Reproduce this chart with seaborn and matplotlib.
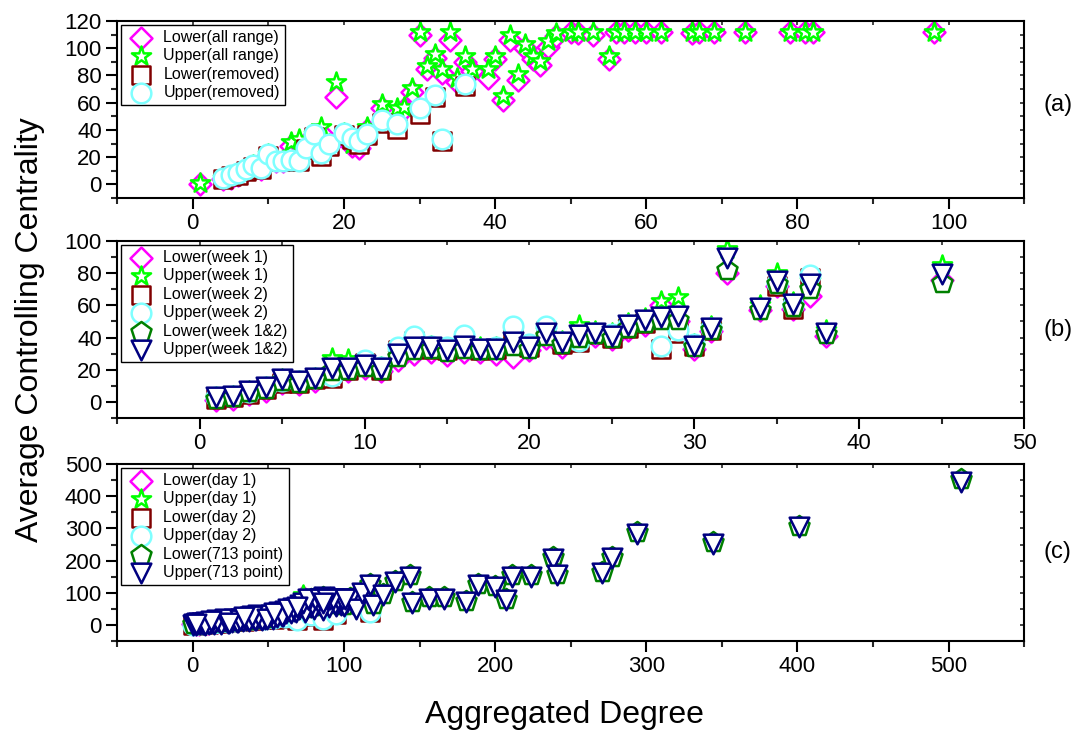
import matplotlib
matplotlib.use("Agg")
import matplotlib.pyplot as plt
from matplotlib.ticker import MultipleLocator
import seaborn as sns

# ---- panel (a): all range vs removed ----
xa_all = [1, 4, 5, 6, 7, 8, 9, 10, 11, 12, 13, 14, 15, 16, 17, 18, 19, 20, 21, 22,
          23, 25, 27, 28, 29, 30, 31, 32, 33, 34, 35, 36, 37, 39, 40, 41, 42, 43, 44, 45,
          46, 47, 48, 50, 51, 53, 55, 56, 57, 58.5, 60, 62, 66, 67, 69, 73, 79, 81, 82, 98]
ya_all_lower = [0.5, 4, 5, 7, 10, 13, 11, 21, 17, 17, 28, 30, 27, 36, 38, 28, 64, 36, 28, 27,
                40, 56, 52, 55, 68, 110, 85, 93, 82, 106, 75, 90, 83, 78, 92, 62, 106, 77, 100, 92,
                88, 101, 109, 112, 111, 110, 92, 112, 112, 112, 112, 112, 111, 112, 112, 112, 112, 112, 112, 112]
ya_all_upper = [1, 5, 6, 8, 11, 14, 12, 22, 18, 18, 31, 33, 28, 37, 42, 30, 75, 38, 30, 30,
                42, 59, 56, 57, 71, 112, 87, 96, 85, 112, 78, 94, 85, 84.5, 94, 65, 110, 81, 103, 94,
                90.5, 105, 111, 112, 112, 112, 94, 112, 112, 112, 112, 112, 112, 112, 112, 112, 112, 112, 112, 112]
xa_rm = [4, 5, 6, 7, 8, 9, 10, 11, 12, 13, 14, 15, 16, 17, 18, 20, 21, 22, 23, 25,
         27, 30, 32, 33, 36]
ya_rm_lower = [4, 6, 7, 10, 13, 11, 21, 17, 17, 17, 17, 26, 35, 21, 28, 36, 33, 30, 36, 45,
               41, 52, 64, 32, 72]
ya_rm_upper = [5, 6.6, 8, 11, 14, 11.7, 22, 17.5, 17.5, 18.2, 17.5, 27, 37, 23, 30, 38, 34, 32, 37, 47,
               44.5, 56, 66, 33.6, 73.5]

# ---- panel (b): week 1, week 2, week 1&2 ----
xb_w1 = [1, 2, 3, 4, 5, 6, 7, 8, 9, 10, 11, 12, 13, 14, 15, 16, 17, 18, 19, 20,
         21, 22, 23, 24, 25, 26, 27, 28, 29, 30, 31, 32, 34, 35, 36, 37, 38, 45]
yb_w1_lower = [1, 2, 5, 7, 12, 11, 13, 18, 19, 21, 19, 26, 30, 31, 29, 31, 31, 30, 28, 32,
               40, 34, 39, 41, 39, 45, 48, 60, 50, 33, 44, 80, 57, 72, 58, 66, 41, 76]
yb_w1_upper = [3, 4, 7, 9, 14, 13, 15, 27.6, 27, 24, 22, 30, 34, 35, 33, 36, 34, 34, 38, 35,
               44, 38, 47.7, 44, 43, 49, 52, 62.7, 65, 36, 47, 95, 60, 80, 62, 75, 45, 85]
xb_w2 = [1, 2, 3, 4, 5, 6, 7, 8, 9, 10, 11, 12, 13, 14, 15, 16, 17, 18, 19, 20,
         21, 22, 23, 24, 25, 26, 27, 28, 29, 30, 31, 35, 36, 37]
yb_w2_lower = [2, 3, 5, 8, 12, 12, 14, 15, 20, 24, 20, 32, 38, 33, 32, 38, 32, 33, 43, 34,
               44, 36, 37, 42, 40, 46, 49, 33, 43, 35, 45, 72, 58, 77]
yb_w2_upper = [3, 4, 6, 9, 13, 13, 15, 16, 21, 26, 22, 34, 41, 35, 34, 41.5, 33, 34, 47, 36,
               47, 37, 38, 43, 42, 48, 50, 35, 45, 36, 46, 74, 60, 79]
xb_w12 = xb_w1
yb_w12_lower = [2, 3, 6, 8, 13, 12, 14, 19, 20, 22, 20, 28, 32, 33, 31, 33, 32, 32, 35, 33,
                41, 36, 40, 42, 40, 46, 49, 51, 51, 34, 45, 82, 57, 73, 59, 70, 42, 74]
yb_w12_upper = [3, 3.7, 6.8, 9, 14, 13, 15, 21, 21, 23, 21, 30, 34, 34, 32, 35, 33, 33, 37, 34,
                43, 37, 41.5, 43, 41, 48, 51, 53, 53.4, 35, 46, 89.7, 58.6, 75, 60.7, 73, 43, 79.3]

# ---- panel (c): day 1, day 2, 713 point ----
xc_d1 = [0, 2, 4, 6, 8, 10, 13, 16, 19, 22, 25, 28, 31, 34, 37, 40, 43, 46, 49, 52,
         55, 58, 61, 64, 67, 70, 73, 76]
yc_d1_lower = [2, 3, 3, 5, 6, 6, 8, 10, 10, 13, 14, 14, 17, 18, 19, 21, 23, 24, 26, 28,
               30, 31, 35, 38, 41, 46, 88, 60]
yc_d1_upper = [3, 4, 5, 6, 7, 8, 9, 11, 12, 14, 15, 16, 18, 19, 21, 22, 24, 26, 27, 29,
               32, 33, 37, 40, 43, 48, 92, 62]
xc_d2 = [0, 3, 6, 10, 14, 18, 23, 28, 34, 40, 47, 54, 61, 69, 78, 86, 95, 117]
yc_d2_lower = [0, 1, 3, 4, 6, 7, 9, 11, 13, 16, 18, 20, 23, 14, 28, 16, 33, 39]
yc_d2_upper = [1, 2, 4, 5, 7, 8, 10, 12, 14, 17, 19, 22, 25, 16, 30, 18, 35, 41]

# lower bound, 713 points (listed in file order, not sorted)
xc_lo = [2, 40, 10, 66, 25, 84, 0, 52, 18, 95, 34, 7, 60, 29, 76, 14, 47, 88, 22, 70,
         5, 57, 36, 81, 12, 64, 44, 100, 30, 73, 86, 91, 78, 104,
         112, 117, 119, 126, 134, 144, 145, 156, 166, 181, 189, 200, 207, 211, 224, 238,
         241, 271, 277, 294, 344, 401, 508]
yc_lo = [3, 20, 6, 45, 13, 60, 2, 30, 10, 64, 18, 5, 40, 12, 52, 9, 22, 70, 12, 55,
         4, 36, 16, 84, 8, 50, 26, 62, 18, 70, 88, 83, 80, 85,
         102, 128, 66, 97, 138, 155, 71, 86, 86, 76, 128, 122, 81, 154, 154, 210,
         159, 164, 212, 288, 257, 308, 452]
# upper bound, 713 points (listed in file order, not sorted)
xc_up = [3, 45, 12, 70, 0, 25, 88, 8, 55, 18, 33, 95, 5, 62, 40, 15, 78, 28, 2, 50,
         102, 10, 36, 67, 22, 85, 7, 47, 58, 30, 1, 75, 20, 42, 92, 14, 64, 38, 6, 53,
         98, 26, 72, 17, 44, 82, 4, 60, 32, 11, 90, 48, 23, 68, 9, 35, 80, 57, 19, 100,
         41, 13, 65, 27, 86, 52, 3, 74, 29, 46, 94, 16, 61, 37, 79, 21, 56, 106, 31, 8,
         71, 43, 24, 83, 59, 12, 97, 39, 66, 49, 2, 77, 34, 87, 54, 104, 73, 91, 63, 81,
         96, 76, 108, 84, 99, 69, 93, 101, 89, 86,
         112, 117, 119, 126, 134, 144, 145, 156, 166, 181, 189, 200, 207, 211, 224, 238,
         241, 271, 277, 294, 344, 401, 508]
yc_up = [2, 20, 6, 50, 1, 14, 66, 5, 30, 9, 12, 60, 3, 38, 22, 8, 55, 16, 0, 25,
         72, 7, 18, 44, 11, 58, 2, 28, 34, 10, 4, 48, 13, 15, 70, 3, 42, 24, 6, 20,
         62, 8, 58, 12, 26, 62, 5, 28, 20, 2, 55, 18, 5, 40, 8, 14, 50, 40, 4, 58,
         14, 10, 36, 19, 48, 32, 7, 40, 9, 16, 66, 14, 44, 12, 64, 17, 24, 66, 16, 1,
         62, 30, 6, 70, 28, 13, 74, 28, 52, 17, 3, 77, 24, 86, 38, 82, 67, 80, 50, 82,
         82, 80, 51, 80, 80, 56, 82, 80, 80, 67,
         98, 124, 62, 93, 134, 150, 67, 82, 82, 72, 124, 118, 77, 150, 150, 206,
         155, 160, 208, 284, 253, 304, 444]

MAGENTA = "#FF00FF"
GREEN = "#00FF00"
DARKRED = "#800000"
CYAN = "#7FFFFF"
DKGREEN = "#008000"
NAVY = "#000080"

sns.set_theme(style="ticks")
plt.rcParams["font.family"] = ["Liberation Sans", "DejaVu Sans"]
plt.rcParams["text.color"] = "black"

fig = plt.figure(figsize=(10.85, 7.36), dpi=100)
left, width, height = 0.108, 0.836, 0.2405
ax_a = fig.add_axes([left, 0.731, width, height])
ax_b = fig.add_axes([left, 0.432, width, height])
ax_c = fig.add_axes([left, 0.129, width, height])


def pts(ax, x, y, marker, color, label, s):
    sns.scatterplot(x=x, y=y, marker=marker, s=s, color="white", edgecolor=color,
                    linewidth=1.8, label=label, ax=ax)


def style(ax, xlim, ylim, xmaj, xmin, ymaj, ymin):
    ax.set_xlim(*xlim)
    ax.set_ylim(*ylim)
    ax.xaxis.set_major_locator(MultipleLocator(xmaj))
    ax.xaxis.set_minor_locator(MultipleLocator(xmin))
    ax.yaxis.set_major_locator(MultipleLocator(ymaj))
    ax.yaxis.set_minor_locator(MultipleLocator(ymin))
    ax.set_xlabel("")
    ax.set_ylabel("")
    for sp in ax.spines.values():
        sp.set_visible(True)
        sp.set_linewidth(1.5)
        sp.set_color("black")
    ax.tick_params(which="major", direction="out", length=8, width=1.5,
                   labelsize=16, pad=3, colors="black")
    ax.tick_params(which="minor", direction="out", length=4.5, width=1.5)
    # small inward ticks on the top and right spines
    top = ax.secondary_xaxis("top")
    top.xaxis.set_major_locator(MultipleLocator(xmin))
    top.tick_params(direction="in", length=3, width=1.2, labeltop=False)
    right = ax.secondary_yaxis("right")
    right.yaxis.set_major_locator(MultipleLocator(ymin))
    right.tick_params(direction="in", length=3, width=1.2, labelright=False)
    leg = ax.legend(loc="upper left", frameon=True, fancybox=False, edgecolor="black",
                    framealpha=1, fontsize=11.5, borderaxespad=0.25, borderpad=0.3,
                    handlelength=1.9, handletextpad=0.45, labelspacing=0.22, scatterpoints=1)
    leg.get_frame().set_linewidth(1.0)
    for t in leg.get_texts():
        t.set_color("black")


pts(ax_a, xa_all, ya_all_lower, "D", MAGENTA, "Lower(all range)", 125)
pts(ax_a, xa_all, ya_all_upper, "*", GREEN, "Upper(all range)", 210)
pts(ax_a, xa_rm, ya_rm_lower, "s", DARKRED, "Lower(removed)", 150)
pts(ax_a, xa_rm, ya_rm_upper, "o", CYAN, "Upper(removed)", 200)
style(ax_a, (-10, 110), (-10, 120), 20, 10, 20, 10)

pts(ax_b, xb_w1, yb_w1_lower, "D", MAGENTA, "Lower(week 1)", 125)
pts(ax_b, xb_w1, yb_w1_upper, "*", GREEN, "Upper(week 1)", 210)
pts(ax_b, xb_w2, yb_w2_lower, "s", DARKRED, "Lower(week 2)", 150)
pts(ax_b, xb_w2, yb_w2_upper, "o", CYAN, "Upper(week 2)", 200)
pts(ax_b, xb_w12, yb_w12_lower, "p", DKGREEN, "Lower(week 1&2)", 230)
pts(ax_b, xb_w12, yb_w12_upper, "v", NAVY, "Upper(week 1&2)", 200)
style(ax_b, (-5, 50), (-10, 100), 10, 5, 20, 10)

pts(ax_c, xc_d1, yc_d1_lower, "D", MAGENTA, "Lower(day 1)", 125)
pts(ax_c, xc_d1, yc_d1_upper, "*", GREEN, "Upper(day 1)", 210)
pts(ax_c, xc_d2, yc_d2_lower, "s", DARKRED, "Lower(day 2)", 150)
pts(ax_c, xc_d2, yc_d2_upper, "o", CYAN, "Upper(day 2)", 200)
pts(ax_c, xc_lo, yc_lo, "p", DKGREEN, "Lower(713 point)", 230)
pts(ax_c, xc_up, yc_up, "v", NAVY, "Upper(713 point)", 200)
style(ax_c, (-50, 550), (-50, 500), 100, 50, 100, 50)

fig.text(0.028, 0.552, "Average Controlling Centrality", rotation=90,
         ha="center", va="center", fontsize=23, color="black")
fig.text(0.52, 0.028, "Aggregated Degree", ha="center", va="center", fontsize=23, color="black")
fig.text(0.975, 0.857, "(a)", ha="center", va="center", fontsize=17, color="black")
fig.text(0.975, 0.552, "(b)", ha="center", va="center", fontsize=17, color="black")
fig.text(0.975, 0.25, "(c)", ha="center", va="center", fontsize=17, color="black")

fig.savefig("out.png", dpi=100)
